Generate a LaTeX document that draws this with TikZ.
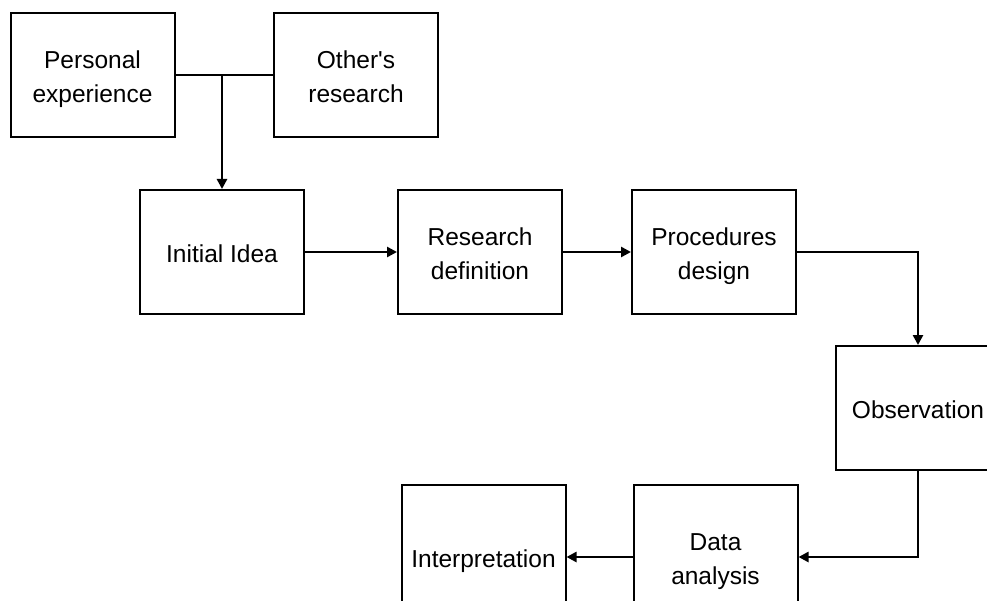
\documentclass[tikz,border=0pt]{standalone}
\usepackage{fontspec}
\setmainfont{Liberation Sans}
\usetikzlibrary{arrows.meta}
\newcommand\boxtxt[1]{\raisebox{-4pt}[\height][\depth]{\begin{tabular}{@{}c@{}}#1\end{tabular}}}
\begin{document}
\begin{tikzpicture}[x=1pt,y=-1pt,
  box/.style={draw=black, line width=2pt, fill=white, minimum width=164pt, minimum height=124pt,
    inner sep=2pt, font=\fontsize{24.5}{34}\selectfont},
  tallbox/.style={box, minimum height=144pt},
  link/.style={line width=2.5pt, draw=black},
  arr/.style={link, -{Triangle[length=10pt,width=10pt]}}]
\useasboundingbox (0,0) rectangle (987,601);
\node[box] (pe) at (92.5,75) {\boxtxt{Personal\\experience}};
\node[box] (or) at (356,75) {\boxtxt{Other\textquotesingle s\\research}};
\node[box] (ii) at (222,252) {\boxtxt{Initial Idea}};
\node[box] (rd) at (480,252) {\boxtxt{Research\\definition}};
\node[box] (pd) at (714,252) {\boxtxt{Procedures\\design}};
\node[box] (ob) at (918,408) {\boxtxt{Observation}};
\node[tallbox] (da) at (715.5,557) {\boxtxt{Data\\analysis}};
\node[tallbox] (ip) at (483.5,557) {\boxtxt{Interpretation}};
\coordinate (j) at (ii.north |- pe.east);
\draw[link] (pe.east) -- (or.west);
\draw[arr] (j) -- (ii.north);
\draw[arr] (ii.east) -- (rd.west);
\draw[arr] (rd.east) -- (pd.west);
\draw[arr] (pd.east) -| (ob.north);
\draw[arr] (ob.south) |- (da.east);
\draw[arr] (da.west) -- (ip.east);
\end{tikzpicture}
\end{document}
